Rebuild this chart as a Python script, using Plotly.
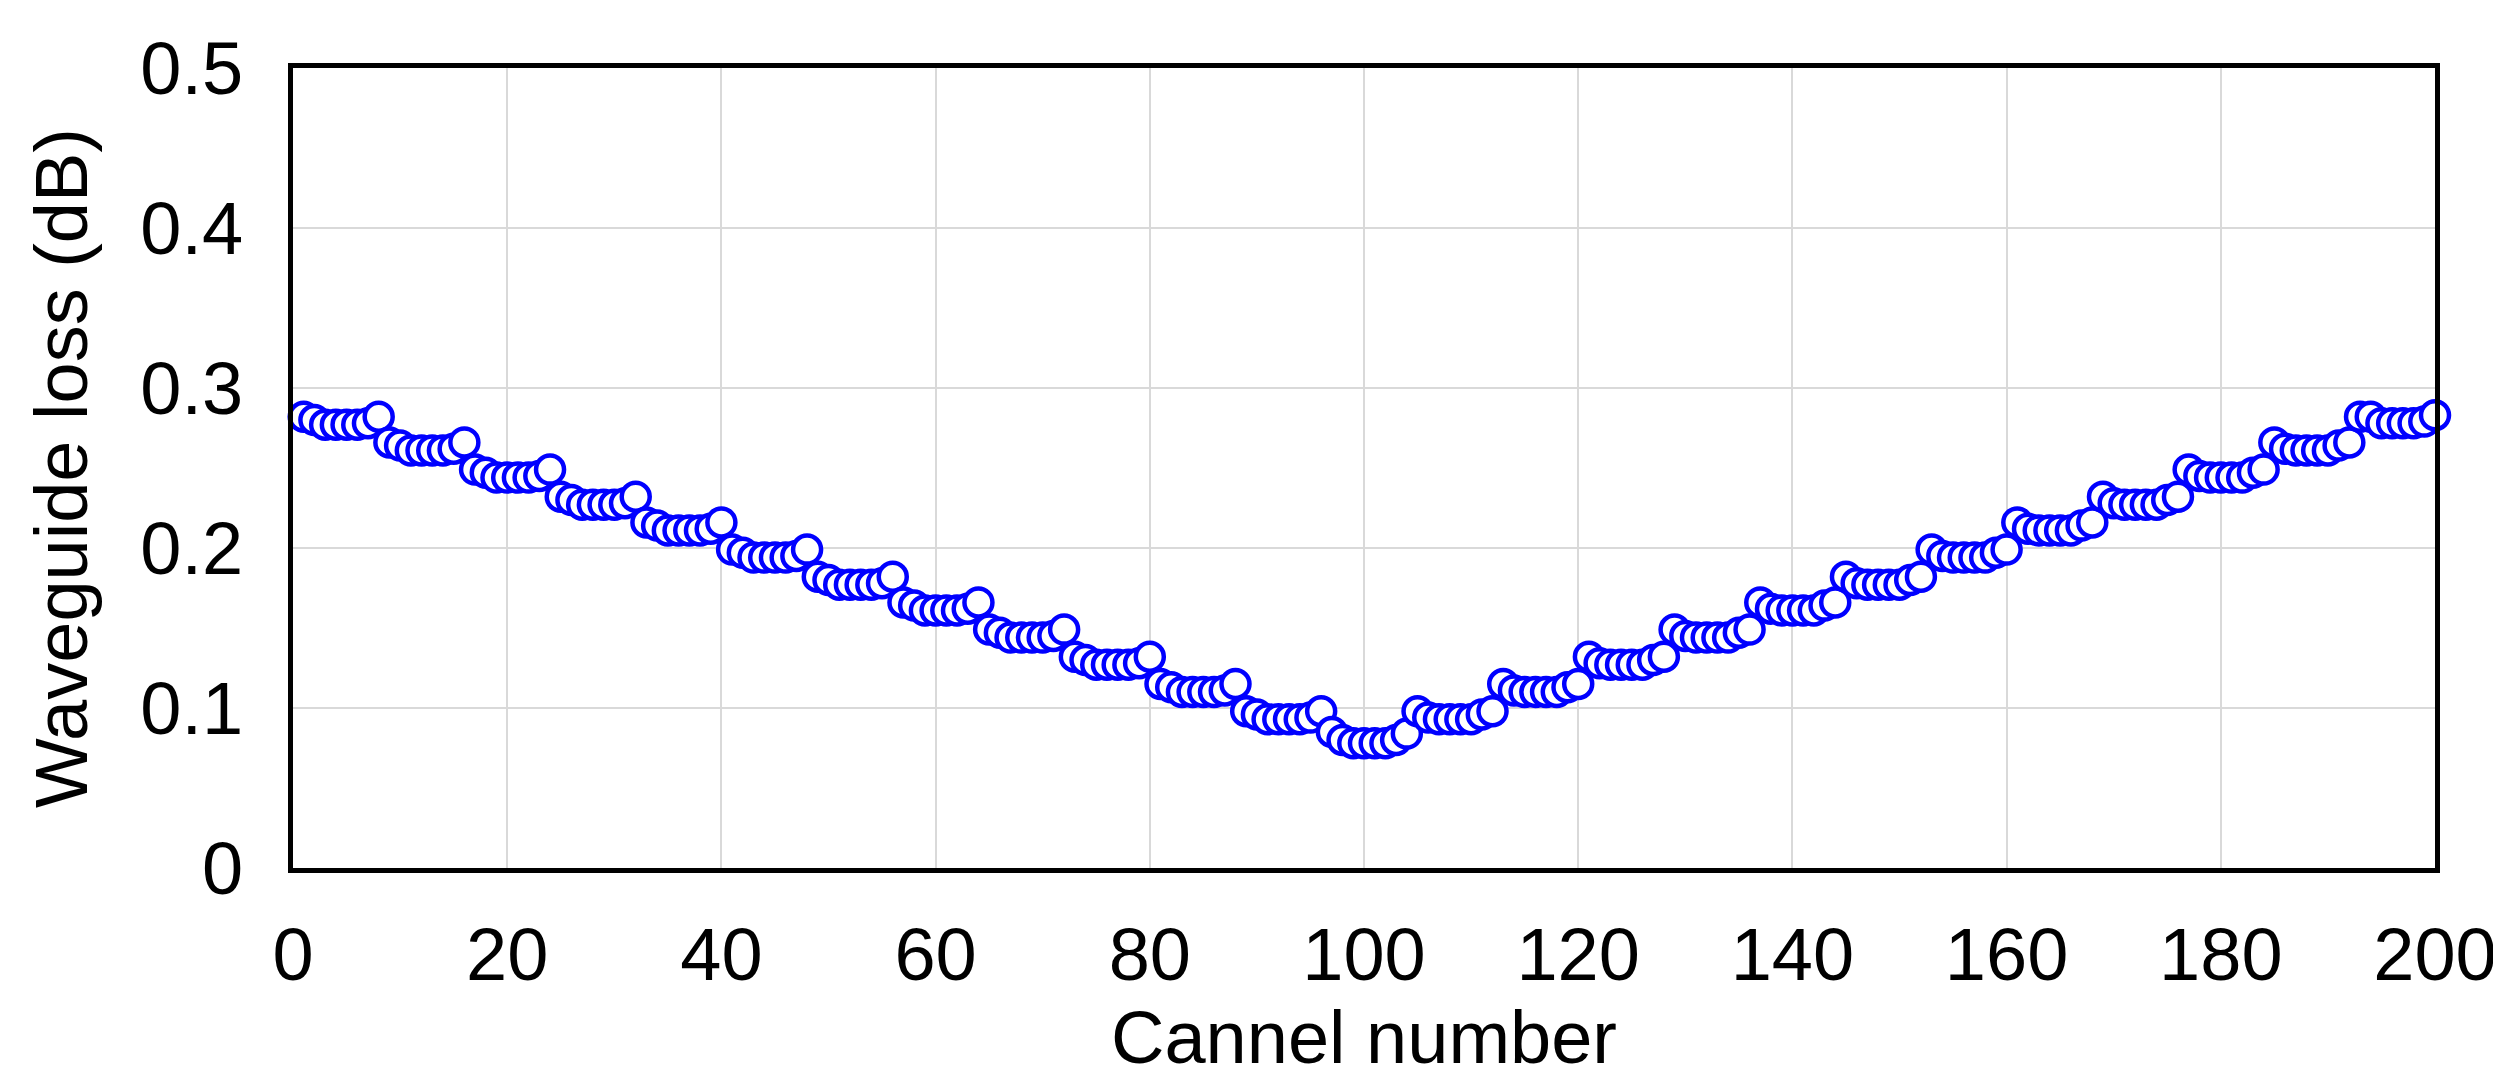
import plotly.graph_objects as go

channels = list(range(1, 201))
loss_left = [
    .282, .280, .277, .277, .277, .277, .278, .282,
    .266, .264, .261, .261, .261, .261, .262, .266,
    .249, .247, .244, .244, .244, .244, .245, .249,
    .232, .230, .227, .227, .227, .227, .228, .232,
    .216, .214, .211, .211, .211, .211, .212, .216,
    .199, .197, .194, .194, .194, .194, .195, .199,
    .182, .180, .177, .177, .177, .177, .178, .182,
    .166, .164, .161, .161, .161, .161, .162, .166,
    .149, .147, .144, .144, .144, .144, .145, .149,
    .132, .130, .127, .127, .127, .127, .128, .132,
    .115, .113, .110, .110, .110, .110, .111, .115,
    .098, .096, .093, .093, .093, .093, .094, .098,
]
loss_center = [.085, .080, .078, .078, .078, .078, .080, .084]
loss_right = [
    .098, .094, .093, .093, .093, .093, .096, .098,
    .115, .111, .110, .110, .110, .110, .113, .115,
    .132, .128, .127, .127, .127, .127, .130, .132,
    .149, .145, .144, .144, .144, .144, .147, .149,
    .166, .162, .161, .161, .161, .161, .164, .166,
    .182, .178, .177, .177, .177, .177, .180, .182,
    .199, .195, .194, .194, .194, .194, .197, .199,
    .216, .212, .211, .211, .211, .211, .214, .216,
    .232, .228, .227, .227, .227, .227, .230, .232,
    .249, .245, .244, .244, .244, .244, .247, .249,
    .266, .262, .261, .261, .261, .261, .264, .266,
    .282, .282, .278, .278, .278, .278, .279, .283,
]
loss = loss_left + loss_center + loss_right

x_ticks = [0, 20, 40, 60, 80, 100, 120, 140, 160, 180, 200]
y_ticks = [0, 0.1, 0.2, 0.3, 0.4, 0.5]
y_tick_text = ["0", "0.1", "0.2", "0.3", "0.4", "0.5"]

fig = go.Figure(go.Scatter(
    x=channels, y=loss, mode="markers",
    marker=dict(symbol="circle", size=28, color="white",
                line=dict(color="#0000FF", width=4.5)),
    cliponaxis=False,
))
font = dict(family="Liberation Sans, Arial", size=74, color="black")
fig.update_layout(
    width=2501, height=1089,
    margin=dict(l=285, r=70, t=60, b=229),
    paper_bgcolor="white", plot_bgcolor="white",
    font=font, showlegend=False,
    xaxis=dict(range=[0, 200], tickvals=x_ticks, showgrid=True,
               gridcolor="#d9d9d9", gridwidth=2, showline=True,
               linecolor="black", linewidth=5, mirror=True, ticks="",
               zeroline=False, tickfont=font, ticklabelstandoff=18,
               title=dict(text="Cannel number", font=font, standoff=0)),
    yaxis=dict(range=[0, 0.5], tickvals=y_ticks, ticktext=y_tick_text,
               showgrid=True, gridcolor="#d9d9d9", gridwidth=2,
               showline=True, linecolor="black", linewidth=5, mirror=True,
               ticks="", zeroline=False, tickfont=font, ticklabelstandoff=30,
               title=dict(text="Waveguide loss (dB)", font=font, standoff=30)),
)
fig.write_html("out.html")
